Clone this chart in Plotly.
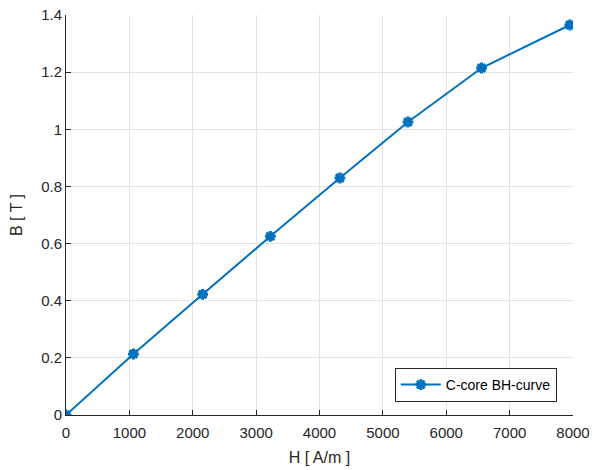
import plotly.graph_objects as go

# Measured magnetisation curve of the C-core
H_field = [0, 1064, 2156, 3225, 4321, 5396, 6557, 7950]          # A/m
B_flux = [0, 0.2135, 0.4225, 0.6255, 0.8295, 1.0255, 1.2145, 1.365]  # T

x_ticks = [0, 1000, 2000, 3000, 4000, 5000, 6000, 7000, 8000]
y_ticks = [0, 0.2, 0.4, 0.6, 0.8, 1.0, 1.2, 1.4]
y_tick_text = ["0", "0.2", "0.4", "0.6", "0.8", "1", "1.2", "1.4"]

line_color = "#0072BD"
font_family = "Liberation Sans, Arial, sans-serif"

fig = go.Figure()
fig.add_trace(go.Scatter(
    x=H_field, y=B_flux,
    mode="lines+markers",
    name="C-core BH-curve",
    line=dict(color=line_color, width=2),
    marker=dict(symbol="asterisk-open", size=9,
                line=dict(color=line_color, width=3), color=line_color),
))

axis_common = dict(
    showgrid=True, gridcolor="#e3e3e3", gridwidth=1,
    zeroline=False, showline=True, linecolor="#262626", linewidth=1,
    ticks="inside", ticklen=5, tickcolor="#262626",
    tickfont=dict(family=font_family, size=15, color="#262626"),
    mirror=False, automargin=False,
)

fig.update_layout(
    width=592, height=470,
    margin=dict(l=66, r=19, t=15, b=55, autoexpand=False),
    paper_bgcolor="white", plot_bgcolor="white",
    font=dict(family=font_family, color="#262626"),
    xaxis=dict(range=[0, 8000], tickvals=x_ticks, ticklabelstandoff=4,
               title=dict(text="H [ A/m ]", font=dict(size=16), standoff=11),
               **axis_common),
    yaxis=dict(range=[0, 1.4], tickvals=y_ticks, ticktext=y_tick_text,
               title=dict(text="B [ T ]", font=dict(size=16), standoff=14),
               **axis_common),
    legend=dict(x=0.968, y=0.0325, xanchor="right", yanchor="bottom",
                bgcolor="white", bordercolor="#262626", borderwidth=1,
                itemwidth=40, tracegroupgap=0,
                font=dict(family=font_family, size=14, color="#000000")),
    showlegend=True,
)

fig.write_html("out.html")
